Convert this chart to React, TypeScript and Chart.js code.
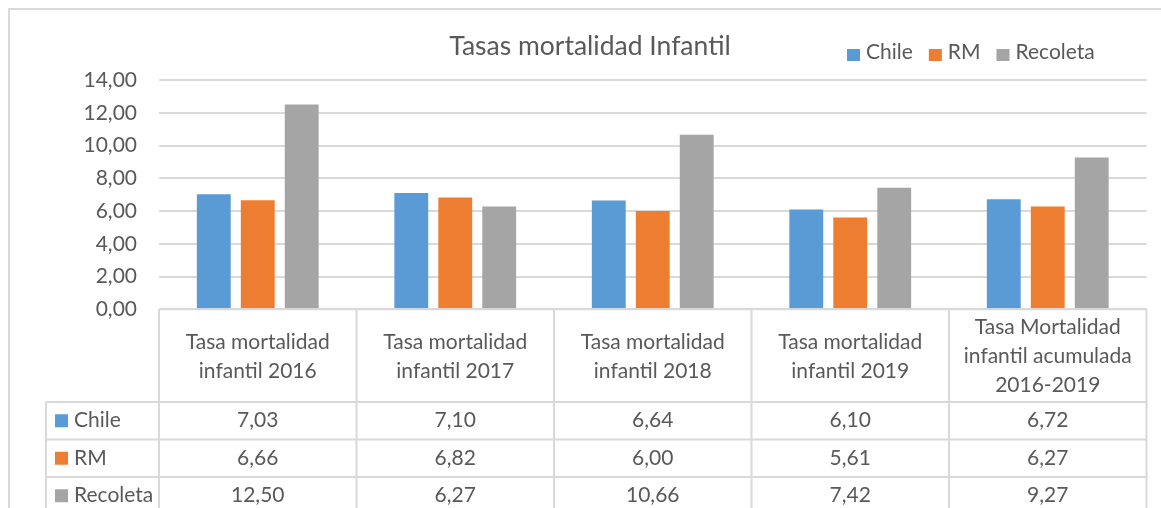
import { useEffect, useRef } from "react";
import { Chart, registerables } from "chart.js";

Chart.register(...registerables);

const chartTitle = "Tasas mortalidad Infantil";
const categories = [
  ["Tasa mortalidad", "infantil 2016"],
  ["Tasa mortalidad", "infantil 2017"],
  ["Tasa mortalidad", "infantil 2018"],
  ["Tasa mortalidad", "infantil 2019"],
  ["Tasa Mortalidad", "infantil acumulada", "2016-2019"],
];
const seriesNames = ["Chile", "RM", "Recoleta"];
const chileValues = [7.03, 7.1, 6.64, 6.1, 6.72];
const rmValues = [6.66, 6.82, 6.0, 5.61, 6.27];
const recoletaValues = [12.5, 6.27, 10.66, 7.42, 9.27];
const seriesColors = ["#5B9BD5", "#ED7D31", "#A5A5A5"];
const yMin = 0;
const yMax = 14;
const yStep = 2;

const FONT = "Lato";
const TEXT = "#595959";
const LINE = "#d9d9d9";
const LABEL_SIZE = 21;
const fmt = (v: number) => v.toFixed(2).replace(".", ",");

const decorPlugin = {
  id: "decor",
  beforeDraw(chart: any) {
    const ctx = chart.ctx as CanvasRenderingContext2D;
    ctx.save();
    ctx.fillStyle = "#ffffff";
    ctx.fillRect(0, 0, chart.width, chart.height);
    ctx.strokeStyle = LINE;
    ctx.lineWidth = 2;
    ctx.beginPath();
    ctx.moveTo(9, chart.height);
    ctx.lineTo(9, 9);
    ctx.lineTo(chart.width, 9);
    ctx.stroke();
    ctx.restore();
  },
  afterDraw(chart: any) {
    const ctx = chart.ctx as CanvasRenderingContext2D;
    const ca = chart.chartArea;
    const xs = chart.scales.x;
    const labels = chart.data.labels as string[][];
    const datasets = chart.data.datasets;
    const n = labels.length;
    const colW = (ca.right - ca.left) / n;

    ctx.save();
    // title
    ctx.fillStyle = TEXT;
    ctx.font = `26.5px ${FONT}`;
    ctx.textAlign = "center";
    ctx.textBaseline = "alphabetic";
    ctx.fillText(chartTitle, 590, 55);

    // legend
    ctx.font = `${LABEL_SIZE}px ${FONT}`;
    ctx.textAlign = "left";
    let lx = 847;
    datasets.forEach((ds: any) => {
      ctx.fillStyle = ds.backgroundColor;
      ctx.fillRect(lx, 49, 13, 12);
      ctx.fillStyle = TEXT;
      ctx.fillText(ds.label, lx + 19, 59);
      lx += 19 + ctx.measureText(ds.label).width + 16;
    });

    // table grid
    const headerBottom = 402;
    const rowH = 37.5;
    const tableBottom = headerBottom + rowH * datasets.length;
    const labelLeft = 46;
    ctx.strokeStyle = LINE;
    ctx.lineWidth = 2;
    ctx.beginPath();
    ctx.moveTo(ca.left, ca.bottom);
    ctx.lineTo(ca.right, ca.bottom);
    for (let i = 0; i <= n; i++) {
      const vx = ca.left + i * colW;
      ctx.moveTo(vx, ca.bottom);
      ctx.lineTo(vx, tableBottom);
    }
    ctx.moveTo(labelLeft, headerBottom);
    ctx.lineTo(labelLeft, tableBottom);
    for (let r = 0; r <= datasets.length; r++) {
      const y = headerBottom + r * rowH;
      ctx.moveTo(labelLeft, y);
      ctx.lineTo(ca.right, y);
    }
    ctx.stroke();

    // header labels
    ctx.fillStyle = TEXT;
    ctx.textAlign = "center";
    const lineGap = 28.7;
    const capHalf = 7.5;
    const headerCenter = (ca.bottom + headerBottom) / 2;
    labels.forEach((lines, i) => {
      const cx = xs.getPixelForValue(i);
      const start = headerCenter - ((lines.length - 1) / 2) * lineGap + capHalf;
      lines.forEach((t, k) => ctx.fillText(t, cx, start + k * lineGap));
    });

    // rows
    datasets.forEach((ds: any, r: number) => {
      const top = headerBottom + r * rowH;
      const base = top + rowH / 2 + capHalf - 1;
      ctx.fillStyle = ds.backgroundColor;
      ctx.fillRect(55, top + rowH / 2 - 6.5, 13, 13);
      ctx.fillStyle = TEXT;
      ctx.textAlign = "left";
      ctx.fillText(ds.label, 74, base);
      ctx.textAlign = "center";
      ds.data.forEach((v: number, i: number) => {
        ctx.fillText(fmt(v), xs.getPixelForValue(i), base);
      });
    });
    ctx.restore();
  },
};

export default function App() {
  const ref = useRef<HTMLCanvasElement | null>(null);

  useEffect(() => {
    document.body.style.margin = "0";
    const canvas = ref.current;
    if (!canvas) return;
    const values = [chileValues, rmValues, recoletaValues];
    const chart = new Chart(canvas, {
      type: "bar",
      data: {
        labels: categories as any,
        datasets: seriesNames.map((name, i) => ({
          label: name,
          data: values[i],
          backgroundColor: seriesColors[i],
          borderWidth: 0,
          categoryPercentage: 0.668,
          barPercentage: 0.77,
        })),
      },
      options: {
        responsive: false,
        animation: false,
        devicePixelRatio: 1,
        layout: { padding: { top: 80, right: 14.5, bottom: 198.7, left: 0 } },
        plugins: {
          legend: { display: false },
          title: { display: false },
          tooltip: { enabled: false },
        },
        scales: {
          x: {
            ticks: { display: false },
            grid: { display: false, drawTicks: false },
            border: { display: false },
            afterFit: (s: any) => {
              s.height = 0;
            },
          },
          y: {
            min: yMin,
            max: yMax,
            ticks: {
              stepSize: yStep,
              padding: 22,
              color: TEXT,
              font: { family: FONT, size: LABEL_SIZE },
              callback: (v: any) => fmt(Number(v)),
            },
            grid: { color: LINE, lineWidth: 2, drawTicks: false },
            border: { display: false },
            afterFit: (s: any) => {
              s.width = 159;
            },
          },
        },
      },
      plugins: [decorPlugin],
    });
    return () => chart.destroy();
  }, []);

  return (
    <div style={{ width: 1161, height: 508 }}>
      <canvas ref={ref} width={1161} height={508} style={{ display: "block", width: 1161, height: 508 }} />
    </div>
  );
}
